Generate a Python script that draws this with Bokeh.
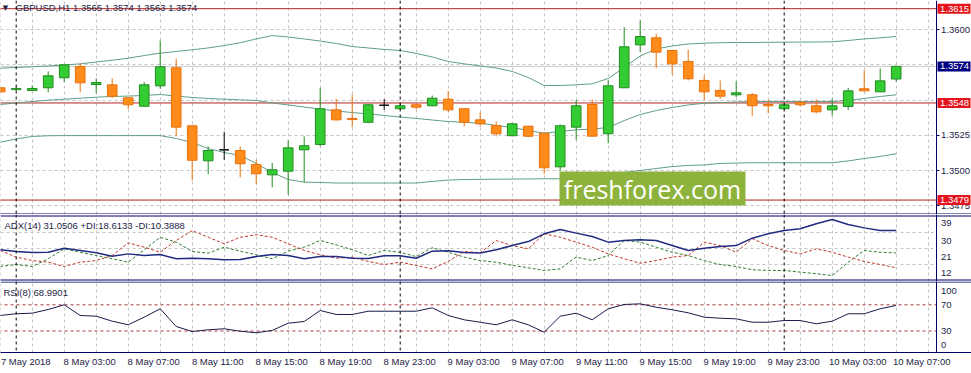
from bokeh.plotting import figure
from bokeh.layouts import column
from bokeh.models import (Range1d, LinearAxis, FixedTicker, Grid, Span,
                          ColumnDataSource, PrintfTickFormatter)
from bokeh.core.properties import value
from bokeh.embed import file_html
from bokeh.resources import INLINE

# ---------------- data (GBPUSD H1, 7 May 23:00 .. 10 May 07:00) ----------------
bar_index = list(range(57))
opens = [1.35588, 1.35575, 1.35568, 1.35588, 1.35659, 1.35739, 1.35611, 1.35609, 1.35517, 1.35457,
         1.35602, 1.35730, 1.35318, 1.35069, 1.35147, 1.35142, 1.35043, 1.34969, 1.34995, 1.35147,
         1.35185, 1.35431, 1.35370, 1.35343, 1.35464, 1.35439, 1.35467, 1.35460, 1.35507, 1.35439,
         1.35360, 1.35320, 1.35247, 1.35315, 1.35265, 1.35026, 1.35308, 1.35469, 1.35261, 1.35588,
         1.35893, 1.35943, 1.35853, 1.35775, 1.35640, 1.35569, 1.35538, 1.35538, 1.35469, 1.35439,
         1.35485, 1.35460, 1.35431, 1.35455, 1.35581, 1.35559, 1.35650]
highs = [1.35595, 1.35596, 1.35604, 1.35704, 1.35751, 1.35763, 1.35654, 1.35654, 1.35517, 1.35628,
         1.35924, 1.35794, 1.35318, 1.35171, 1.35275, 1.35171, 1.35076, 1.35055, 1.35213, 1.35242,
         1.35588, 1.35510, 1.35538, 1.35474, 1.35507, 1.35478, 1.35478, 1.35533, 1.35564, 1.35439,
         1.35414, 1.35348, 1.35332, 1.35315, 1.35272, 1.35327, 1.35502, 1.35505, 1.35640, 1.36019,
         1.36066, 1.35971, 1.35853, 1.35858, 1.35675, 1.35640, 1.35633, 1.35552, 1.35502, 1.35474,
         1.35490, 1.35505, 1.35510, 1.35588, 1.35711, 1.35725, 1.35740]
lows = [1.35550, 1.35568, 1.35565, 1.35556, 1.35628, 1.35556, 1.35549, 1.35514, 1.35436, 1.35450,
        1.35581, 1.35242, 1.34929, 1.34974, 1.35076, 1.34952, 1.34900, 1.34881, 1.34827, 1.34917,
        1.35173, 1.35355, 1.35308, 1.35336, 1.35431, 1.35431, 1.35434, 1.35457, 1.35414, 1.35313,
        1.35313, 1.35242, 1.35247, 1.35237, 1.34977, 1.35000, 1.35218, 1.35244, 1.35194, 1.35588,
        1.35841, 1.35727, 1.35682, 1.35640, 1.35502, 1.35507, 1.35521, 1.35389, 1.35407, 1.35431,
        1.35455, 1.35407, 1.35391, 1.35431, 1.35564, 1.35559, 1.35630]
closes = [1.35559, 1.35582, 1.35583, 1.35673, 1.35751, 1.35623, 1.35625, 1.35528, 1.35467, 1.35609,
          1.35737, 1.35308, 1.35073, 1.35142, 1.35147, 1.35048, 1.34977, 1.35005, 1.35161, 1.35176,
          1.35439, 1.35360, 1.35362, 1.35467, 1.35464, 1.35460, 1.35450, 1.35514, 1.35431, 1.35343,
          1.35332, 1.35261, 1.35332, 1.35244, 1.35019, 1.35318, 1.35460, 1.35244, 1.35602, 1.35879,
          1.35952, 1.35841, 1.35758, 1.35652, 1.35559, 1.35528, 1.35552, 1.35460, 1.35460, 1.35467,
          1.35467, 1.35417, 1.35460, 1.35566, 1.35566, 1.35637, 1.35740]

bb_upper = [1.35727, 1.35732, 1.35737, 1.35743, 1.35750, 1.35758, 1.35771, 1.35784, 1.35798, 1.35817,
            1.35834, 1.35846, 1.35858, 1.35871, 1.35888, 1.35908, 1.35935, 1.35959, 1.35949, 1.35935,
            1.35920, 1.35903, 1.35881, 1.35871, 1.35860, 1.35853, 1.35832, 1.35807, 1.35775, 1.35758,
            1.35743, 1.35729, 1.35704, 1.35661, 1.35604, 1.35604, 1.35609, 1.35616, 1.35654, 1.35732,
            1.35814, 1.35864, 1.35885, 1.35899, 1.35905, 1.35908, 1.35910, 1.35910, 1.35911, 1.35912,
            1.35913, 1.35913, 1.35915, 1.35924, 1.35935, 1.35943, 1.35952]
bb_middle = [1.35469, 1.35480, 1.35490, 1.35500, 1.35507, 1.35514, 1.35521, 1.35526, 1.35529, 1.35533,
             1.35540, 1.35529, 1.35519, 1.35512, 1.35507, 1.35502, 1.35498, 1.35480, 1.35466, 1.35451,
             1.35437, 1.35423, 1.35412, 1.35402, 1.35391, 1.35380, 1.35370, 1.35359, 1.35348, 1.35343,
             1.35336, 1.35320, 1.35306, 1.35284, 1.35265, 1.35277, 1.35289, 1.35294, 1.35306, 1.35355,
             1.35398, 1.35426, 1.35448, 1.35466, 1.35478, 1.35483, 1.35487, 1.35490, 1.35490, 1.35490,
             1.35490, 1.35490, 1.35490, 1.35498, 1.35512, 1.35526, 1.35538]
bb_lower = [1.35201, 1.35224, 1.35242, 1.35247, 1.35248, 1.35248, 1.35248, 1.35248, 1.35248, 1.35248,
            1.35248, 1.35227, 1.35199, 1.35156, 1.35128, 1.35107, 1.35050, 1.34986, 1.34936, 1.34917,
            1.34915, 1.34911, 1.34911, 1.34911, 1.34911, 1.34911, 1.34911, 1.34922, 1.34932, 1.34936,
            1.34937, 1.34938, 1.34939, 1.34940, 1.34941, 1.34941, 1.34943, 1.34957, 1.34972, 1.34986,
            1.35000, 1.35014, 1.35028, 1.35036, 1.35039, 1.35050, 1.35053, 1.35055, 1.35055, 1.35055,
            1.35055, 1.35055, 1.35055, 1.35068, 1.35085, 1.35100, 1.35119]

adx = [20.4, 19.4, 18.9, 19.0, 21.2, 20.0, 18.7, 16.8, 18.1, 17.2, 17.7, 15.4, 15.7, 15.4, 14.8,
       15.0, 16.6, 17.7, 17.2, 15.4, 16.6, 16.6, 15.7, 15.5, 17.0, 17.0, 15.7, 19.6, 19.8, 18.9,
       18.6, 20.4, 22.7, 24.9, 29.2, 31.6, 29.6, 27.7, 24.6, 25.5, 25.9, 25.5, 22.7, 20.0, 21.2,
       22.2, 22.7, 26.8, 29.2, 31.05, 32.0, 34.8, 37.1, 34.4, 32.5, 31.1, 31.05]
plus_di = [11.1, 12.2, 11.1, 15.4, 20.9, 19.0, 17.2, 15.4, 13.5, 20.4, 27.3, 24.6, 19.4, 18.5, 21.8,
           19.6, 17.6, 15.4, 19.6, 21.8, 25.5, 23.1, 20.4, 17.2, 20.0, 19.0, 16.6, 21.5, 19.0, 16.3,
           14.4, 13.5, 11.7, 10.4, 8.9, 9.8, 16.3, 14.4, 17.2, 25.5, 24.6, 21.8, 19.0, 17.2, 14.4,
           12.2, 11.1, 9.3, 8.9, 8.9, 8.0, 7.1, 6.1, 13.5, 20.0, 19.0, 18.61]
minus_di = [20.0, 16.3, 14.4, 13.5, 11.1, 13.5, 14.4, 17.2, 24.2, 21.8, 19.0, 25.5, 31.0, 27.3, 23.7,
            27.3, 28.7, 27.3, 23.7, 20.0, 17.6, 15.7, 16.3, 13.9, 12.2, 13.5, 11.7, 9.8, 13.9, 19.4,
            18.7, 25.5, 22.7, 20.9, 29.2, 27.3, 24.6, 21.8, 18.1, 15.4, 12.9, 14.4, 16.3, 17.2, 24.6,
            22.7, 19.0, 26.5, 22.7, 20.0, 18.1, 20.9, 19.0, 16.3, 13.9, 12.2, 10.39]
rsi = [53.7, 56.3, 57.2, 62.8, 70.0, 53.7, 52.6, 45.0, 39.5, 51.1, 63.9, 36.9, 29.2, 31.8, 33.4,
       29.7, 27.3, 30.8, 41.9, 44.5, 61.3, 55.2, 55.2, 60.2, 60.2, 60.2, 60.2, 65.4, 53.7, 47.1,
       43.4, 39.5, 47.1, 39.5, 28.2, 52.6, 57.2, 47.1, 63.9, 70.5, 71.5, 66.3, 62.4, 57.8, 51.1,
       49.5, 48.6, 43.4, 43.4, 46.0, 46.0, 41.0, 45.0, 56.3, 56.3, 63.9, 68.99]

tick_bars = [0, 4, 8, 12, 16, 20, 24, 28, 32, 36, 40, 44, 48, 52, 56]
tick_labels = ["7 May 2018", "8 May 03:00", "8 May 07:00", "8 May 11:00", "8 May 15:00",
               "8 May 19:00", "8 May 23:00", "9 May 03:00", "9 May 07:00", "9 May 11:00",
               "9 May 15:00", "9 May 19:00", "9 May 23:00", "10 May 03:00", "10 May 07:00"]
day_start_bars = [1, 25, 49]
red_levels = [1.3615, 1.3548, 1.3479]
bid_price = 1.3574
price_ticks = [1.3475, 1.3500, 1.3525, 1.3600]
price_grid = [1.3475, 1.3500, 1.3525, 1.3550, 1.3575, 1.3600]
adx_levels = [39, 30, 21, 12]
rsi_levels = [70, 30]
title = "GBPUSD,H1  1.3565 1.3574 1.3563 1.3574"
adx_title = "ADX(14) 31.0506 +DI:18.6133 -DI:10.3888"
rsi_title = "RSI(8) 68.9901"
watermark = "freshforex.com"

# ---------------- styling / geometry ----------------
NAVY = "#000066"
TXT = "#1e1e46"
GRID = "#c4c4c4"
RED = "#b22222"
FONT = "Liberation Sans"
FS = "9.5px"
PAGE_W = 971
PLOT_W = 935          # chart area left of the price scale
BAR_PX = 16.0
X0 = 0.3 / BAR_PX


def px2bar(px):
    return X0 + px / BAR_PX


def price_at(py):          # main panel, py from top of page
    return 1.35 + (170.0 - py) / 14070.0


def adx_at(py):
    return 31.05 - (py - 230.0) / 1.805


def rsi_at(py):
    return 70.0 - (py - 304.3) / 0.655


x_range = Range1d(X0, px2bar(PAGE_W))
AXIS_X = px2bar(935.5)
LEFT_X = px2bar(-2)
RIGHT_X = px2bar(935.5)


def make_fig(frame_h, y0, y1, border_bottom=0):
    f = figure(frame_width=PAGE_W, frame_height=frame_h, x_range=x_range,
               y_range=Range1d(y0, y1), output_backend="svg", toolbar_location=None,
               x_axis_location=None, y_axis_location=None,
               min_border_left=0, min_border_right=0, min_border_top=0,
               min_border_bottom=border_bottom, outline_line_color=None,
               background_fill_color="white", border_fill_color="white")
    for g in list(f.grid):
        g.visible = False
    f.add_layout(Grid(dimension=0, ticker=FixedTicker(ticks=list(range(0, 59, 2))),
                      grid_line_color=GRID, grid_line_dash="3 3"))
    for b in day_start_bars:
        f.add_layout(Span(location=b, dimension="height", line_color="black",
                          line_dash="3 3", line_width=1))
    # blank price-scale strip (covers grid lines)
    f.quad(left=[px2bar(936)], right=[px2bar(PAGE_W + 4)], bottom=[y0], top=[y1],
           fill_color="white", line_color=None)
    return f


def right_axis(f, ticks, overrides=None, fmt=None, tick_out=0, standoff=5):
    ax = LinearAxis(ticker=FixedTicker(ticks=ticks), axis_line_color=NAVY,
                    major_tick_line_color=NAVY, major_tick_out=tick_out, major_tick_in=0,
                    minor_tick_line_color=None, major_label_standoff=standoff,
                    major_label_text_font=FONT, major_label_text_font_size=FS,
                    major_label_text_color=TXT, fixed_location=AXIS_X)
    if fmt:
        ax.formatter = fmt
    if overrides:
        ax.major_label_overrides = overrides
    f.add_layout(ax, "right")


def hlines(f, levels, **kw):
    n = len(levels)
    f.segment(x0=[LEFT_X] * n, x1=[RIGHT_X] * n, y0=levels, y1=levels, **kw)


# ---------------- main price panel ----------------
p = make_fig(214, price_at(214), price_at(0))
p.add_layout(Grid(dimension=1, ticker=FixedTicker(ticks=price_grid),
                  grid_line_color=GRID, grid_line_dash="3 3"))
p.renderers.insert(0, p.renderers.pop())  # keep strip order simple
right_axis(p, price_ticks, fmt=PrintfTickFormatter(format="%.4f"), tick_out=3, standoff=2)

hlines(p, [bid_price], line_color="#c8c8c8", line_width=1)
hlines(p, red_levels, line_color=RED, line_width=1)

band_col = "#5f9e86"
p.line(bar_index, bb_upper, line_color=band_col, line_width=1)
p.line(bar_index, bb_middle, line_color=band_col, line_width=1)
p.line(bar_index, bb_lower, line_color=band_col, line_width=1)

# watermark box
p.quad(left=[px2bar(559)], right=[px2bar(745)], top=[price_at(171)], bottom=[price_at(205)],
       fill_color="#8db33c", line_color=None)
p.text(x=[px2bar(652)], y=[price_at(188.5)], text=[watermark], text_color="white",
       text_font=value("Open Sans"), text_font_size="25px", text_align="center",
       text_baseline="middle")

fills, lines_c = [], []
for o, c in zip(opens, closes):
    if c > o:
        fills.append("#33cc33"); lines_c.append("#238b23")
    elif c < o:
        fills.append("#ff8c1a"); lines_c.append("#e8700e")
    else:
        fills.append("black"); lines_c.append("black")
src = ColumnDataSource(dict(x=bar_index, h=highs, l=lows,
                            top=[max(o, c) for o, c in zip(opens, closes)],
                            bottom=[min(o, c) for o, c in zip(opens, closes)],
                            fill=fills, line=lines_c))
p.segment(x0="x", y0="l", x1="x", y1="h", line_color="line", line_width=1, source=src)
p.vbar(x="x", width=0.6, top="top", bottom="bottom", fill_color="fill",
       line_color="line", line_width=1, source=src)

p.text(x=[px2bar(5)], y=[price_at(7)], text=["\u25bc"], text_color=TXT,
       text_font=value("DejaVu Sans"), text_font_size="7px", text_align="center",
       text_baseline="middle")
p.text(x=[px2bar(15)], y=[price_at(7)], text=[title], text_color=TXT,
       text_font=value(FONT), text_font_size=FS, text_align="left", text_baseline="middle")
p.add_layout(Span(location=price_at(213.5), dimension="width", line_color=NAVY, line_width=1))

# price tags on the scale
box_levels = red_levels + [bid_price]
box_cols = ["#e3141b", "#e3141b", "#e3141b", "#000080"]
p.rect(x=[px2bar(953.5)] * 4, y=box_levels, width=33, height=10, width_units="screen",
       height_units="screen", fill_color=box_cols, line_color=None, level="overlay")
p.text(x=[px2bar(939.5)] * 4, y=box_levels, text=[f"{lv:.4f}" for lv in box_levels],
       text_color="white", text_font=value(FONT), text_font_size=FS, text_align="left",
       text_baseline="middle", level="overlay")

# ---------------- ADX panel ----------------
a = make_fig(67, adx_at(281), adx_at(214))
a.add_layout(Grid(dimension=1, ticker=FixedTicker(ticks=adx_levels[1:]),
                  grid_line_color=GRID, grid_line_dash="3 3"))
adx_label_pos = [adx_at(222.5), adx_at(240.3), adx_at(256.7), adx_at(272.5)]
right_axis(a, adx_label_pos,
           overrides={pos: str(lv) for pos, lv in zip(adx_label_pos, adx_levels)})
a.line(bar_index, plus_di, line_color="#2f7d32", line_width=1, line_dash="3 2")
a.line(bar_index, minus_di, line_color="#c0392b", line_width=1, line_dash="3 2")
a.line(bar_index, adx, line_color="#1f2a80", line_width=1.5)
a.text(x=[px2bar(4)], y=[adx_at(224.5)], text=[adx_title], text_color=TXT,
       text_font=value(FONT), text_font_size=FS, text_align="left", text_baseline="middle")
a.add_layout(Span(location=adx_at(215.5), dimension="width", line_color=NAVY, line_width=1))
a.add_layout(Span(location=adx_at(279.5), dimension="width", line_color=NAVY, line_width=1))

# ---------------- RSI panel ----------------
r = make_fig(71, rsi_at(352), rsi_at(281), border_bottom=21)
rsi_label_pos = [rsi_at(290.0), 70, 30, rsi_at(344.3)]
right_axis(r, rsi_label_pos,
           overrides={rsi_label_pos[0]: "100", 70: "70", 30: "30", rsi_label_pos[3]: "0"})
hlines(r, rsi_levels, line_color="#b03a3a", line_dash="3 3", line_width=1)
r.line(bar_index, rsi, line_color="#1a1a4a", line_width=1)
r.text(x=[px2bar(3)], y=[rsi_at(291.5)], text=[rsi_title], text_color=TXT,
       text_font=value(FONT), text_font_size=FS, text_align="left", text_baseline="middle")
r.add_layout(Span(location=rsi_at(281.5), dimension="width", line_color=NAVY, line_width=1))

SHIFT = 25.5 / BAR_PX
r.extra_x_ranges = {"lbl": Range1d(x_range.start - SHIFT, x_range.end - SHIFT)}
xa = LinearAxis(x_range_name="lbl", ticker=FixedTicker(ticks=tick_bars),
                major_label_overrides=dict(zip(tick_bars, tick_labels)),
                axis_line_color=NAVY, major_tick_out=0, major_tick_in=0,
                minor_tick_line_color=None, major_label_standoff=3,
                major_label_text_font=FONT, major_label_text_font_size=FS,
                major_label_text_color=TXT)
r.add_layout(xa, "below")

layout = column(p, a, r, spacing=0)
open("out.html", "w").write(file_html(layout, INLINE))
